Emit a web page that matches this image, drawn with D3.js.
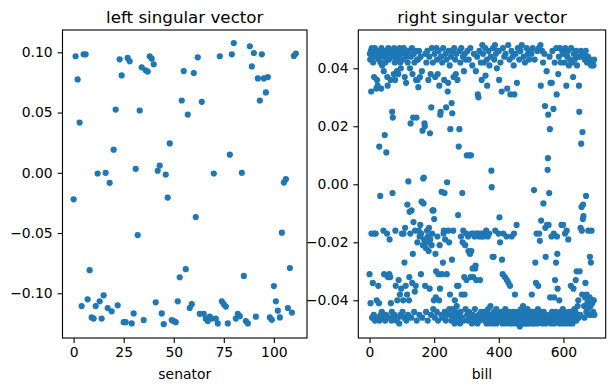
<!DOCTYPE html>
<html><head><meta charset="utf-8">
<script src="https://cdn.jsdelivr.net/npm/d3@7"></script>
<style>body{margin:0;background:#fff}svg{display:block}text{font-family:"DejaVu Sans",sans-serif}</style>
</head><body><svg id="c" width="614" height="391"></svg>
<script>
// ---- data ----
const senatorScores = [
-0.022,0.0967,0.0775,0.0417,-0.1106,0.0983,0.0983,-0.105,-0.0808,-0.120,
-0.121,-0.1106,-0.0006,-0.1067,-0.121,-0.1017,0.000,-0.1123,-0.0083,-0.115,
0.0192,0.0525,-0.110,0.0942,0.0808,-0.124,-0.124,0.0953,0.0925,-0.125,
-0.1167,0.0033,-0.0517,0.0517,0.0875,-0.1222,0.085,0.084,0.0967,0.0947,
0.090,-0.1075,0.0017,0.006,-0.1167,-0.1256,-0.0014,-0.0206,0.0244,-0.1222,
-0.123,-0.124,-0.1067,-0.0867,0.060,0.0844,-0.080,0.0483,-0.1122,-0.109,
0.0828,-0.0367,0.0958,-0.117,0.0589,-0.117,-0.1211,-0.123,-0.1194,-0.121,
-0.0006,-0.121,-0.125,0.0967,-0.1067,-0.109,-0.111,-0.125,0.015,0.0983,
0.1077,-0.121,-0.117,-0.119,0.000,-0.0856,-0.123,-0.125,0.105,0.0883,
0.0994,-0.1194,0.0783,0.060,0.0983,0.0783,0.0667,0.0794,-0.12,-0.122,
-0.094,-0.1067,-0.1144,-0.12,-0.0497,-0.0081,-0.0053,-0.1122,-0.079,-0.116,
0.097,0.099];

const billScores = [
-0.031,0.045,0.043,-0.041,0.046,0.032,-0.017,0.047,-0.046,0.044,
-0.034,0.042,0.046,-0.045,0.037,-0.017,0.047,-0.047,0.044,-0.017,
0.045,0.033,-0.040,0.036,-0.046,0.034,0.046,-0.035,0.043,-0.041,
0.013,-0.047,0.045,-0.004,0.042,-0.045,0.033,0.047,-0.044,0.041,
-0.046,0.046,0.044,-0.016,0.039,-0.031,0.045,0.017,-0.047,0.042,
0.044,-0.045,0.011,0.046,-0.017,0.037,0.034,-0.032,0.047,-0.046,
0.043,-0.031,-0.019,0.045,-0.032,0.036,-0.041,0.046,-0.047,-0.044,
0.025,-0.003,0.023,0.044,-0.046,0.038,0.047,-0.045,0.042,0.036,
-0.016,-0.035,0.045,-0.047,0.043,0.039,-0.040,0.046,-0.046,0.038,
-0.033,0.044,-0.048,0.047,-0.038,0.042,-0.045,0.040,-0.036,0.045,
-0.017,0.046,-0.044,0.043,-0.040,-0.017,0.047,-0.046,-0.027,0.037,
-0.015,0.045,-0.035,0.035,-0.047,0.044,-0.038,-0.007,0.042,-0.045,
0.001,0.046,-0.040,-0.032,-0.0095,0.040,-0.017,0.021,0.044,-0.046,
-0.009,0.047,-0.034,0.038,-0.024,0.023,-0.013,0.045,-0.044,0.042,
-0.037,-0.016,0.046,-0.035,0.036,0.023,-0.047,0.043,-0.020,0.036,
0.043,0.0335,-0.016,0.046,-0.045,-0.018,0.037,-0.014,0.044,-0.031,
-0.017,-0.006,0.039,-0.046,0.0185,-0.021,0.002,-0.0066,0.0023,-0.019,
0.021,0.020,-0.035,0.045,-0.022,-0.044,0.042,-0.020,-0.016,0.046,
-0.047,-0.018,0.036,-0.023,-0.015,0.044,-0.036,0.0176,-0.019,0.038,
-0.045,0.0265,-0.021,0.047,-0.017,-0.009,0.042,-0.043,-0.009,-0.040,
-0.012,0.045,-0.046,0.037,-0.024,-0.039,-0.030,0.047,-0.044,0.043,
-0.018,0.038,-0.047,-0.031,0.046,-0.040,0.034,-0.021,-0.036,0.024,
0.025,0.044,-0.045,-0.0026,-0.031,0.042,-0.046,-0.027,0.047,-0.017,
-0.016,0.036,-0.003,-0.044,-0.019,0.045,-0.047,0.0265,0.043,-0.031,
0.0007,-0.045,0.032,0.035,-0.016,0.046,-0.020,-0.043,0.041,-0.038,
0.019,-0.045,0.044,-0.047,0.028,-0.026,0.0245,0.046,-0.043,-0.016,
0.037,-0.046,0.047,-0.048,-0.040,0.043,-0.044,0.038,-0.046,0.045,
-0.042,-0.035,0.036,-0.047,-0.0106,-0.035,0.013,-0.045,0.019,0.046,
-0.048,0.042,-0.044,-0.018,0.047,-0.038,-0.046,-0.003,-0.020,0.044,
-0.016,-0.047,0.039,-0.032,-0.038,0.045,-0.021,-0.043,0.043,-0.017,
-0.033,0.010,-0.045,0.046,-0.047,-0.018,-0.023,0.043,-0.044,0.010,
-0.046,-0.024,0.047,-0.032,0.010,-0.023,-0.017,-0.048,0.041,-0.029,
-0.045,-0.032,-0.017,0.045,-0.047,-0.018,-0.043,-0.029,-0.028,0.039,
-0.033,-0.017,-0.046,0.044,-0.048,0.031,-0.017,0.030,-0.045,-0.018,
0.046,-0.047,-0.033,-0.017,0.042,-0.044,-0.018,0.036,-0.046,0.048,
-0.017,0.045,-0.046,-0.018,0.042,-0.044,-0.017,-0.047,0.047,0.0375,
-0.045,-0.016,-0.048,0.043,0.034,-0.046,-0.018,-0.043,0.046,-0.047,
-0.017,0.041,-0.045,-0.048,-0.042,0.044,-0.047,0.0047,-0.001,-0.045,
-0.046,-0.025,0.047,-0.048,-0.025,-0.044,0.043,-0.046,0.048,-0.016,
-0.047,0.045,-0.043,-0.048,0.040,-0.046,-0.045,0.046,-0.047,-0.017,
0.046,0.036,-0.0114,-0.046,-0.020,0.042,-0.047,-0.044,-0.045,0.032,
-0.026,-0.048,-0.031,0.047,-0.017,-0.046,-0.044,0.044,-0.047,-0.032,
-0.043,0.045,-0.048,-0.046,-0.018,-0.033,0.033,-0.045,-0.047,0.048,
-0.034,-0.046,-0.044,0.043,-0.048,-0.035,0.031,-0.045,-0.047,0.046,
-0.018,-0.046,-0.048,0.044,-0.044,-0.047,0.041,-0.017,0.031,-0.046,
-0.038,-0.046,0.045,-0.048,-0.044,-0.014,0.035,-0.047,-0.045,0.047,
-0.048,-0.046,-0.044,0.043,-0.047,-0.049,-0.045,0.046,-0.047,-0.043,
-0.048,0.048,-0.046,-0.044,-0.047,-0.042,-0.045,0.044,-0.048,-0.046,
-0.047,0.042,-0.044,-0.048,-0.045,-0.047,0.047,-0.046,-0.048,-0.043,
0.045,-0.047,-0.045,-0.048,0.043,-0.046,-0.044,-0.047,0.046,-0.045,
-0.046,0.045,-0.038,-0.048,-0.044,0.047,-0.046,-0.047,-0.045,-0.002,
-0.048,0.043,-0.046,-0.027,-0.044,-0.034,-0.047,-0.017,-0.045,0.046,
-0.048,-0.043,-0.035,-0.047,0.047,-0.017,-0.046,-0.0195,-0.044,0.048,
0.034,-0.0125,-0.047,-0.045,0.046,-0.048,-0.046,0.042,-0.0066,-0.044,
-0.047,0.045,-0.045,0.027,-0.015,-0.025,-0.048,-0.046,0.039,-0.014,
-0.045,0.005,0.009,0.024,-0.014,-0.047,-0.003,0.044,0.019,-0.039,
0.035,-0.046,-0.048,-0.018,0.035,-0.044,0.046,-0.047,-0.045,0.026,
-0.017,-0.039,-0.048,0.042,-0.033,-0.046,-0.044,-0.027,0.047,0.031,
-0.018,-0.024,-0.036,-0.047,0.038,-0.045,0.044,-0.040,-0.048,0.047,
-0.046,-0.044,0.042,-0.047,-0.014,-0.045,0.046,-0.048,-0.043,-0.014,
0.045,-0.046,-0.044,0.042,-0.047,-0.017,0.047,-0.045,-0.048,0.034,
-0.016,-0.046,0.044,-0.047,0.046,-0.019,-0.044,0.041,-0.048,-0.046,
0.043,-0.045,-0.047,-0.035,0.047,-0.044,-0.046,0.042,-0.048,-0.045,
0.037,-0.036,0.045,-0.047,-0.043,0.043,-0.046,-0.044,-0.033,0.046,
-0.047,-0.030,0.041,-0.045,-0.042,0.044,-0.040,-0.046,0.034,0.025,
-0.030,0.044,-0.045,-0.015,0.046,0.014,-0.0078,-0.016,-0.038,0.018,
-0.012,-0.007,-0.011,0.045,-0.042,-0.046,0.043,-0.039,-0.034,0.046,
-0.004,-0.044,-0.038,0.042,-0.041,-0.043,0.044,-0.016,-0.040,0.042,
-0.045,-0.039,-0.025,0.043,-0.042,-0.027,0.041,-0.016,-0.045,-0.041,
0.042,-0.040,-0.044,0.041,-0.040,0.043,-0.045];

const leftXTicks = [0, 25, 50, 75, 100];
const leftYTicks = [-0.10, -0.05, 0.00, 0.05, 0.10];
const rightXTicks = [0, 200, 400, 600];
const rightYTicks = [-0.04, -0.02, 0.00, 0.02, 0.04];
const titles = ["left singular vector", "right singular vector"];
const xLabels = ["senator", "bill"];

// ---- drawing ----
const svg = d3.select("#c");
const BLUE = "#1f77b4";
const FS = 13.9;

function panel(cfg) {
  const g = svg.append("g");
  const n = cfg.values.length - 1;
  const x = d3.scaleLinear().domain([-0.05 * n, 1.05 * n]).range([cfg.left, cfg.right]);
  const y = d3.scaleLinear().domain(cfg.yDomain).range([cfg.bottom, cfg.top]);

  g.append("g").selectAll("circle").data(cfg.values).join("circle")
    .attr("cx", (d, i) => x(i)).attr("cy", d => y(d))
    .attr("r", 3.1).attr("fill", BLUE);

  const xa = g.append("g").attr("transform", `translate(0,${cfg.bottom})`)
    .call(d3.axisBottom(x).tickValues(cfg.xTicks).tickSize(4.9).tickPadding(4.6).tickFormat(d3.format("d")));
  const ya = g.append("g").attr("transform", `translate(${cfg.left},0)`)
    .call(d3.axisLeft(y).tickValues(cfg.yTicks).tickSize(4.9).tickPadding(4.9).tickFormat(d3.format(".2f")));
  [xa, ya].forEach(a => {
    a.select(".domain").remove();
    a.attr("font-family", null).attr("font-size", null);
    a.selectAll("text").attr("font-size", FS).attr("font-family", "DejaVu Sans").attr("fill", "#000");
    a.selectAll("line").attr("stroke", "#000").attr("stroke-width", 1.1);
  });

  g.append("rect").attr("x", cfg.left).attr("y", cfg.top)
    .attr("width", cfg.right - cfg.left).attr("height", cfg.bottom - cfg.top)
    .attr("fill", "none").attr("stroke", "#000").attr("stroke-width", 1.1);

  g.append("text").attr("x", (cfg.left + cfg.right) / 2).attr("y", 22.7)
    .attr("text-anchor", "middle").attr("font-size", 16.7).attr("fill", "#000").text(cfg.title);
  g.append("text").attr("x", (cfg.left + cfg.right) / 2).attr("y", 379.3)
    .attr("text-anchor", "middle").attr("font-size", FS).attr("fill", "#000").text(cfg.xLabel);
}

panel({values: senatorScores, left: 62.5, right: 307, top: 30, bottom: 338,
       yDomain: [-0.1371, 0.1185], xTicks: leftXTicks, yTicks: leftYTicks,
       title: titles[0], xLabel: xLabels[0]});
panel({values: billScores, left: 358.3, right: 605.7, top: 30, bottom: 338,
       yDomain: [-0.0530, 0.0532], xTicks: rightXTicks, yTicks: rightYTicks,
       title: titles[1], xLabel: xLabels[1]});
</script>
</body></html>
